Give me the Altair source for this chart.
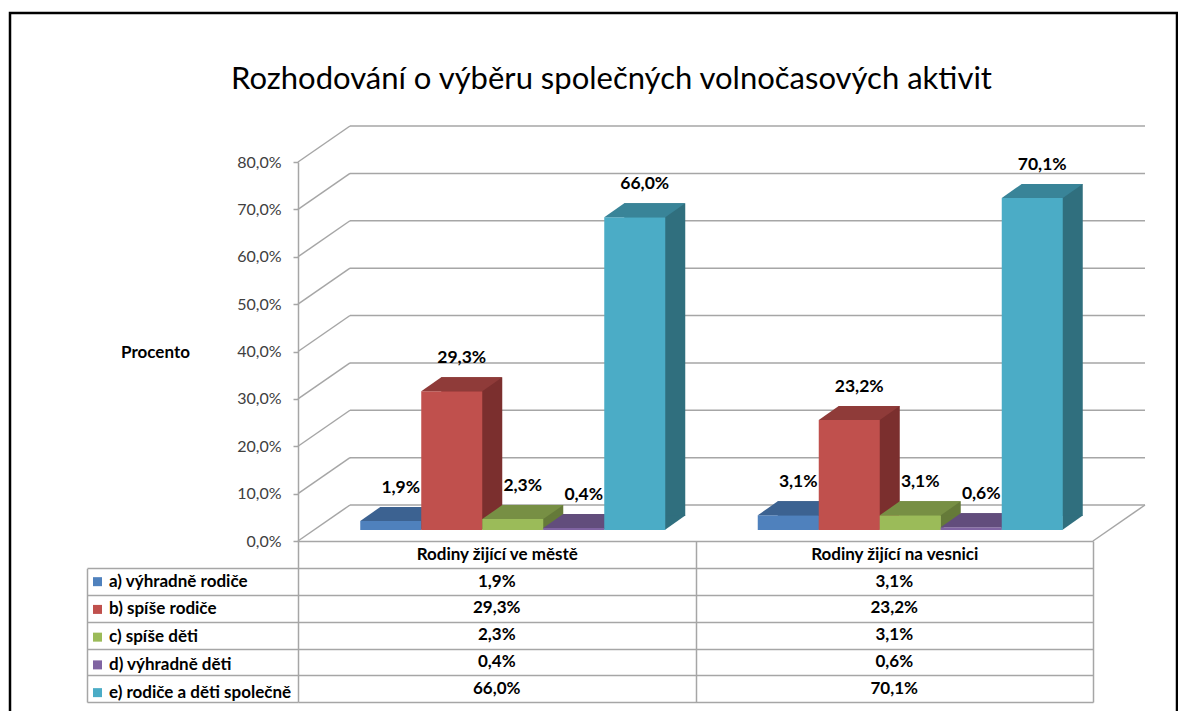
import altair as alt
import pandas as pd

# ---------------- data ----------------
CATEGORIES = ["Rodiny žijící ve městě", "Rodiny žijící na vesnici"]
SERIES = [
    "a) výhradně rodiče",
    "b) spíše rodiče",
    "c) spíše děti",
    "d) výhradně děti",
    "e) rodiče a děti společně",
]
CITY = [1.9, 29.3, 2.3, 0.4, 66.0]
VILLAGE = [3.1, 23.2, 3.1, 0.6, 70.1]
Y_TICKS = [0, 10, 20, 30, 40, 50, 60, 70, 80]
TITLE = "Rozhodování o výběru společných volnočasových aktivit"
Y_TITLE = "Procento"

# ---------------- styles ----------------
FRONT = ["#4F81BD", "#C0504D", "#9BBB59", "#8064A2", "#4BACC6"]
TOP = ["#3C6291", "#8F3B39", "#778F44", "#624D7C", "#398498"]
SIDE = ["#304F75", "#7B2F2E", "#657A39", "#534069", "#306F7E"]
GRID = "#A6A6A6"
FONT = "Lato"
BOLD_SIZE = 17

W, H = 795, 379
BAR_W = 61.0
DEPTH_X, DEPTH_Y = 20, 14
WALL_X, WALL_Y = 52, 36
LIFT_X, LIFT_Y = (WALL_X - DEPTH_X) / 2, (WALL_Y - DEPTH_Y) / 2
HEADER_H = 27.3
TABLE_BOTTOM = 161
ROW_HEAD_W = 211
ROW_H = (TABLE_BOTTOM - HEADER_H) / 5

BAND = W / len(CATEGORIES)
FREE = BAND - BAR_W * len(SERIES)
PAD_OUTER = FREE / (2 * BAR_W)
FRONT_ALIGN = (FREE / 2 + LIFT_X) / FREE
BACK_ALIGN = (FREE / 2 + LIFT_X + DEPTH_X) / FREE


def fmt(v):
    return f"{v:.1f}".replace(".", ",") + "%"


rows = []
for cat, vals in zip(CATEGORIES, (CITY, VILLAGE)):
    for s, v in zip(SERIES, vals):
        rows.append({"kat": cat, "odp": s, "hod": v, "txt": fmt(v), "nula": 0})
df = pd.DataFrame(rows)
ticks_df = pd.DataFrame({"tick": Y_TICKS})

x_axis = alt.Axis(
    orient="bottom", domainColor=GRID, domainWidth=1.5,
    tickBand="extent", tickSize=TABLE_BOTTOM, tickColor=GRID, tickWidth=1.5,
    labelPadding=5 - TABLE_BOTTOM, labelFont=FONT, labelFontSize=BOLD_SIZE,
    labelFontWeight="bold", labelColor="black", labelAngle=0, labelLimit=0,
    grid=False, title=None,
)


def X():
    return alt.X("kat:N", sort=CATEGORIES,
                 scale=alt.Scale(type="band", domain=CATEGORIES, paddingInner=0, paddingOuter=0),
                 axis=x_axis)


def XO(align):
    return alt.XOffset("odp:N", sort=SERIES,
                       scale=alt.Scale(type="band", domain=SERIES, paddingInner=0,
                                       paddingOuter=PAD_OUTER, align=align, round=False))


def YS():
    return alt.Scale(domain=[0, 80], nice=False, zero=True)


def YV(field="hod", axis=None):
    return alt.Y(f"{field}:Q", scale=YS(), axis=axis)


main_y_axis = alt.Axis(
    orient="left", values=Y_TICKS,
    labelExpr="replace(format(datum.value, '.1f'), '.', ',') + '%'",
    labelFont=FONT, labelFontSize=16, labelColor="#404040", labelPadding=12,
    tickSize=5, tickColor=GRID, tickWidth=1.5, domainColor=GRID, domainWidth=1.5,
    grid=False, title=Y_TITLE, titleAngle=0, titleX=-143, titleY=190,
    titleAlign="center", titleBaseline="middle", titleFont=FONT,
    titleFontSize=BOLD_SIZE, titleFontWeight="bold", titleColor="black",
)

h = BAR_W / 2
top_path = (f"M{-h},{-LIFT_Y} L{h},{-LIFT_Y} L{h + DEPTH_X},{-LIFT_Y - DEPTH_Y} "
            f"L{-h + DEPTH_X},{-LIFT_Y - DEPTH_Y} Z")
patch_path = (f"M{h - 0.5},{-LIFT_Y} L{h - 0.5},{-LIFT_Y - DEPTH_Y - 0.5} "
              f"L{h + DEPTH_X},{-LIFT_Y - DEPTH_Y - 0.5} Z")

layers = []

# outer frame
frame = alt.Chart(pd.DataFrame({"r": [0]})).mark_rect(
    fill="white", fillOpacity=0, stroke="black", strokeWidth=2.5
).encode(x=alt.value(-288), x2=alt.value(879), y=alt.value(-149), y2=alt.value(620))
layers.append(frame)

# back wall, side wall and floor lines
rb = alt.Chart(ticks_df)
layers.append(rb.mark_rule(color=GRID, strokeWidth=1.5, yOffset=-WALL_Y).encode(
    y=YV("tick", main_y_axis), x=alt.value(WALL_X), x2=alt.value(W + WALL_X)))
layers.append(rb.mark_rule(color=GRID, strokeWidth=1.5, y2Offset=-WALL_Y).encode(
    y=YV("tick"), y2="tick:Q", x=alt.value(0), x2=alt.value(WALL_X)))
layers.append(rb.transform_filter(alt.datum.tick == 0).mark_rule(
    color=GRID, strokeWidth=1.5, y2Offset=-WALL_Y).encode(
    y=YV("tick"), y2="tick:Q", x=alt.value(W), x2=alt.value(W + WALL_X)))

legend = alt.Legend(
    orient="none", legendX=-209, legendY=H + HEADER_H + ROW_H / 2 - BOLD_SIZE / 2,
    title=None, padding=0,
    symbolType="square", symbolSize=81, symbolStrokeWidth=0, symbolOpacity=1,
    labelFont=FONT, labelFontSize=BOLD_SIZE, labelFontWeight="bold", labelColor="black",
    labelOffset=3, rowPadding=ROW_H - BOLD_SIZE, labelLimit=0, direction="vertical",
)

for i, s in enumerate(SERIES):
    sub = alt.Chart(df).transform_filter(alt.datum.odp == s)
    d = LIFT_Y + DEPTH_Y
    layers.append(sub.mark_bar(color=SIDE[i], yOffset=-d, y2Offset=-d).encode(
        x=X(), xOffset=XO(BACK_ALIGN), y=YV()))
    layers.append(sub.mark_point(shape=patch_path, size=4, filled=True, opacity=1,
                                 color=SIDE[i], strokeWidth=0).encode(
        x=X(), xOffset=XO(FRONT_ALIGN), y=YV("nula")))
    layers.append(sub.mark_bar(yOffset=-LIFT_Y, y2Offset=-LIFT_Y).encode(
        x=X(), xOffset=XO(FRONT_ALIGN), y=YV(),
        color=alt.Color("odp:N", sort=SERIES,
                        scale=alt.Scale(domain=SERIES, range=FRONT), legend=legend)))
    layers.append(sub.mark_point(shape=top_path, size=4, filled=True, opacity=1,
                                 color=TOP[i], strokeWidth=0).encode(
        x=X(), xOffset=XO(FRONT_ALIGN), y=YV()))

# value labels above bars
layers.append(alt.Chart(df).mark_text(
    dx=10, dy=-44, font=FONT, fontSize=17.5, fontWeight="bold", color="black"
).encode(x=X(), xOffset=XO(FRONT_ALIGN), y=YV(), text="txt:N"))

# data table
table_scale = alt.Scale(type="band", domain=SERIES,
                        range=[H + HEADER_H, H + TABLE_BOTTOM],
                        paddingInner=0, paddingOuter=0)
axis_rows = alt.Axis(orient="left", domain=False, ticks=True, tickBand="extent",
                     tickSize=ROW_HEAD_W, tickColor=GRID, tickWidth=1.5,
                     grid=True, gridColor=GRID, gridWidth=1.5, labels=False, title=None)
axis_left = alt.Axis(orient="left", offset=ROW_HEAD_W, domain=True, domainColor=GRID,
                     domainWidth=1.5, ticks=False, labels=False, grid=False, title=None)

layers.append(alt.Chart(df).mark_text(
    font=FONT, fontSize=BOLD_SIZE, fontWeight="bold", color="black"
).encode(x=X(), y=alt.Y("odp:N", sort=SERIES, scale=table_scale, axis=axis_rows),
         text="txt:N"))
layers.append(alt.Chart(pd.DataFrame({"odp": SERIES})).mark_text(opacity=0, text=" ").encode(
    y=alt.Y("odp:N", sort=SERIES, scale=table_scale, axis=axis_left)))

chart = alt.layer(*layers).resolve_scale(
    y="independent", xOffset="independent"
).properties(
    width=W, height=H,
    padding={"left": 290, "top": 154, "right": 85, "bottom": 170},
    autosize=alt.AutoSizeParams(type="none"),
    title=alt.TitleParams(TITLE, font=FONT, fontSize=31, fontWeight="normal",
                          color="black", anchor="middle", frame="group",
                          dx=-84, offset=-108, baseline="alphabetic"),
    background="white",
).configure_view(strokeWidth=0)

chart.save("out.html", embed_options={"renderer": "svg", "actions": False})
